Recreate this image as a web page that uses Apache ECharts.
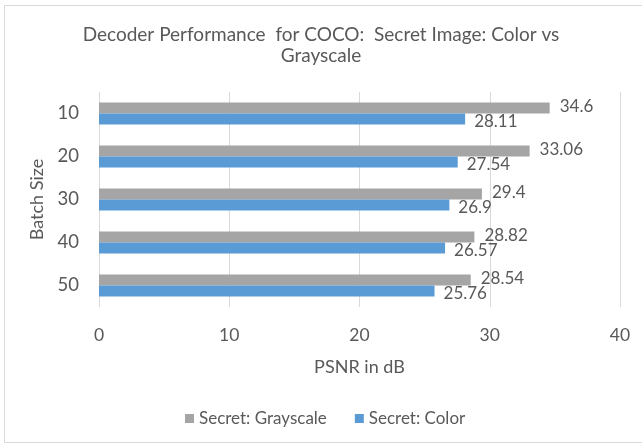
<!DOCTYPE html>
<html>
<head>
<meta charset="utf-8">
<script src="https://cdn.jsdelivr.net/npm/echarts@6/dist/echarts.min.js"></script>
<style>
  html, body { margin: 0; padding: 0; background: #fff; }
  #chart { width: 642px; height: 444px; }
</style>
</head>
<body>
<div id="chart"></div>
<script>
// Batch sizes and decoder PSNR (dB) for each secret-image type
const batchSizes = ['10', '20', '30', '40', '50'];
const grayscalePSNR = [34.6, 33.06, 29.4, 28.82, 28.54];
const colorPSNR = [28.11, 27.54, 26.9, 26.57, 25.76];
const xTicks = [0, 10, 20, 30, 40];

const textColor = '#595959';
const font = 'Lato, "Open Sans", sans-serif';

const chart = echarts.init(document.getElementById('chart'));
chart.setOption({
  animation: false,
  textStyle: { fontFamily: font, color: textColor },
  title: {
    text: 'Decoder Performance  for COCO:  Secret Image: Color vs\nGrayscale',
    left: 'center',
    top: 19,
    textStyle: { fontFamily: font, fontSize: 19, fontWeight: 'normal', color: textColor, lineHeight: 21 }
  },
  graphic: [{
    type: 'rect',
    shape: { x: 4.5, y: 5.5, width: 640, height: 437 },
    style: { fill: 'none', stroke: '#d9d9d9', lineWidth: 1 },
    silent: true
  }],
  legend: {
    top: 405,
    left: 180,
    itemWidth: 9,
    itemHeight: 9,
    itemGap: 28,
    icon: 'rect',
    textStyle: { fontFamily: font, fontSize: 17, color: textColor }
  },
  grid: { left: 99, right: 22, top: 92, bottom: 137 },
  xAxis: {
    type: 'value',
    min: xTicks[0],
    max: xTicks[xTicks.length - 1],
    interval: 10,
    name: 'PSNR in dB',
    nameLocation: 'middle',
    nameGap: 51,
    nameTextStyle: { fontFamily: font, fontSize: 18, color: textColor },
    axisLine: { show: false },
    axisTick: { show: false },
    axisLabel: { margin: 19, fontFamily: font, fontSize: 17.5, color: textColor },
    splitLine: { lineStyle: { color: '#d9d9d9' } }
  },
  yAxis: {
    type: 'category',
    inverse: true,
    data: batchSizes,
    name: 'Batch Size',
    nameLocation: 'middle',
    nameGap: 45,
    nameTextStyle: { fontFamily: font, fontSize: 18, color: textColor },
    axisLine: { show: false },
    axisTick: { show: false },
    axisLabel: { margin: 20, fontFamily: font, fontSize: 18.5, color: textColor }
  },
  series: [
    {
      name: 'Secret: Grayscale',
      type: 'bar',
      data: grayscalePSNR,
      barWidth: 11,
      barGap: '0%',
      itemStyle: { color: '#a5a5a5' },
      label: {
        show: true, position: 'right', distance: 10, offset: [0, -1],
        fontFamily: font, fontSize: 17, color: textColor
      }
    },
    {
      name: 'Secret: Color',
      type: 'bar',
      data: colorPSNR,
      barWidth: 11,
      itemStyle: { color: '#5b9bd5' },
      label: {
        show: true, position: 'right', distance: 9, offset: [0, 3],
        fontFamily: font, fontSize: 17, color: textColor
      }
    }
  ]
});
</script>
</body>
</html>
